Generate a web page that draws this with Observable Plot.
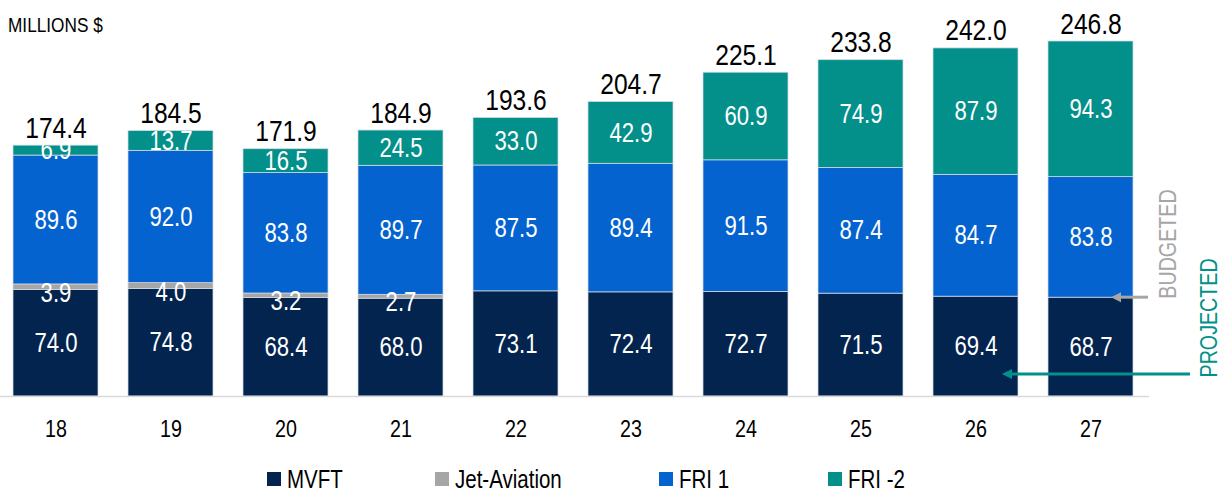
<!DOCTYPE html>
<html>
<head>
<meta charset="utf-8">
<script src="https://cdn.jsdelivr.net/npm/d3@7"></script>
<script src="https://cdn.jsdelivr.net/npm/@observablehq/plot@0.6"></script>
<style>
  html, body { margin: 0; padding: 0; background: #fff; }
  body { width: 1230px; height: 492px; position: relative; overflow: hidden;
         font-family: "Liberation Sans", Arial, sans-serif; }
  #title { position: absolute; left: 8px; top: 14px; font-size: 21px; line-height: 21px; color: #000;
           transform: scaleX(0.82); transform-origin: 0 0; white-space: nowrap; }
  #chart { position: absolute; left: 0; top: 0; }
  #legend { position: absolute; left: 267px; top: 464px; display: flex; align-items: center;
            font-size: 25px; line-height: 30px; color: #000; }
  .item { display: flex; align-items: center; }
  .sw { width: 14px; height: 14px; margin-right: 6px; flex: none; }
  .lt { display: inline-block; transform: scaleX(0.82); transform-origin: 0 50%; white-space: nowrap; }
</style>
</head>
<body>
<div id="chart"></div>
<div id="title">MILLIONS $</div>
<div id="legend"></div>
<script>
// ---- data ----
const categories = ["18", "19", "20", "21", "22", "23", "24", "25", "26", "27"];
const seriesNames = ["MVFT", "Jet-Aviation", "FRI 1", "FRI -2"];
const mvft        = [74.0, 74.8, 68.4, 68.0, 73.1, 72.4, 72.7, 71.5, 69.4, 68.7];
const jetAviation = [3.9, 4.0, 3.2, 2.7, 0, 0, 0, 0, 0, 0];
const fri1        = [89.6, 92.0, 83.8, 89.7, 87.5, 89.4, 91.5, 87.4, 84.7, 83.8];
const fri2        = [6.9, 13.7, 16.5, 24.5, 33.0, 42.9, 60.9, 74.9, 87.9, 94.3];
const totals      = [174.4, 184.5, 171.9, 184.9, 193.6, 204.7, 225.1, 233.8, 242.0, 246.8];
const seriesColors = ["#02244f", "#a6a6a6", "#0563d0", "#03908b"];
const budgetedLabel = "BUDGETED";
const projectedLabel = "PROJECTED";
const projectedArrowValue = 15.3;

// ---- table ----
const seriesValues = [mvft, jetAviation, fri1, fri2];
const rows = [];
categories.forEach((cat, i) => {
  let base = 0;
  seriesNames.forEach((s, k) => {
    const v = seriesValues[k][i];
    rows.push({cat, series: s, value: v, mid: base + v / 2});
    base += v;
  });
});
const barRows = rows.filter(d => d.value > 0);
const mainLabels = barRows.filter(d => d.series !== "Jet-Aviation");
const jetLabels = barRows.filter(d => d.series === "Jet-Aviation");
const fmt = v => v.toFixed(1);
const FONT = '"Liberation Sans", Arial, sans-serif';

const chart = Plot.plot({
  width: 1230,
  height: 455,
  marginLeft: 11.5,
  marginRight: 96,
  marginTop: 36.4,
  marginBottom: 59,
  style: {fontFamily: FONT, color: "#000", background: "transparent", overflow: "visible"},
  x: {domain: categories, paddingInner: 0.26, paddingOuter: 0, label: null},
  y: {domain: [0, 250], axis: null},
  color: {domain: seriesNames, range: seriesColors},
  marks: [
    Plot.barY(barRows, Plot.stackY({
      x: "cat", y: "value", fill: "series", order: seriesNames,
      stroke: "#d3dae4", strokeWidth: 0.75
    })),
    Plot.text(mainLabels, {x: "cat", y: "mid", text: d => fmt(d.value), fill: "#fff", fontSize: 27}),
    Plot.text(jetLabels, {x: "cat", y: "mid", text: d => fmt(d.value), fill: "#fff", fontSize: 27, dy: 6}),
    Plot.text(totals, {x: (d, i) => categories[i], y: d => d, text: d => fmt(d),
      lineAnchor: "bottom", dy: -8, fontSize: 30, fill: "#000"}),
    Plot.axisX({tickSize: 0, tickPadding: 23, fontSize: 24, label: null}),
    Plot.text([{label: budgetedLabel, v: mvft[mvft.length - 1]}], {
      y: "v", text: "label", frameAnchor: "right", rotate: -90, textAnchor: "start",
      dx: 34, dy: 1, fill: "#a6a6a6", fontSize: 24}),
    Plot.text([{label: projectedLabel, v: projectedArrowValue}], {
      y: "v", text: "label", frameAnchor: "right", rotate: -90, textAnchor: "start",
      dx: 75, dy: 3, fill: seriesColors[3], fontSize: 24})
  ]
});
document.getElementById("chart").appendChild(chart);

// condensed look (like a narrow face): squeeze every text horizontally
chart.querySelectorAll("text").forEach(t => {
  const L = t.getComputedTextLength();
  if (L > 0) {
    t.setAttribute("textLength", (L * 0.82).toFixed(2));
    t.setAttribute("lengthAdjust", "spacingAndGlyphs");
  }
});

// ---- baseline and arrows, positioned through the plot's scales ----
const xs = chart.scale("x"), ys = chart.scale("y");
const bw = xs.bandwidth;
const lastCat = categories[categories.length - 1];
const prevCat = categories[categories.length - 2];
const rightEdge = xs.apply(lastCat) + bw;
const svg = d3.select(chart);
svg.append("line")
  .attr("x1", 0).attr("x2", rightEdge + 16)
  .attr("y1", ys.apply(0) + 0.5).attr("y2", ys.apply(0) + 0.5)
  .attr("stroke", "#d9d9d9").attr("stroke-width", 1.5);

function arrow(xTail, xTip, y, color) {
  const head = 10, half = 5;
  svg.append("line").attr("x1", xTail).attr("x2", xTip + head).attr("y1", y).attr("y2", y)
    .attr("stroke", color).attr("stroke-width", 3);
  svg.append("path")
    .attr("d", `M${xTip},${y}L${xTip + head},${y - half}L${xTip + head},${y + half}Z`)
    .attr("fill", color);
}
arrow(rightEdge + 15, rightEdge - 22, ys.apply(mvft[mvft.length - 1]), "#a6a6a6");
arrow(rightEdge + 57, xs.apply(prevCat) + bw - 16, ys.apply(projectedArrowValue), seriesColors[3]);

// ---- legend ----
const legendWidths = [168, 224, 169, 120];
const legend = document.getElementById("legend");
seriesNames.forEach((s, k) => {
  const it = document.createElement("div");
  it.className = "item";
  it.style.width = legendWidths[k] + "px";
  const sw = document.createElement("div");
  sw.className = "sw";
  sw.style.background = seriesColors[k];
  const tx = document.createElement("span");
  tx.className = "lt";
  tx.textContent = s;
  it.appendChild(sw); it.appendChild(tx);
  legend.appendChild(it);
});
</script>
</body>
</html>
